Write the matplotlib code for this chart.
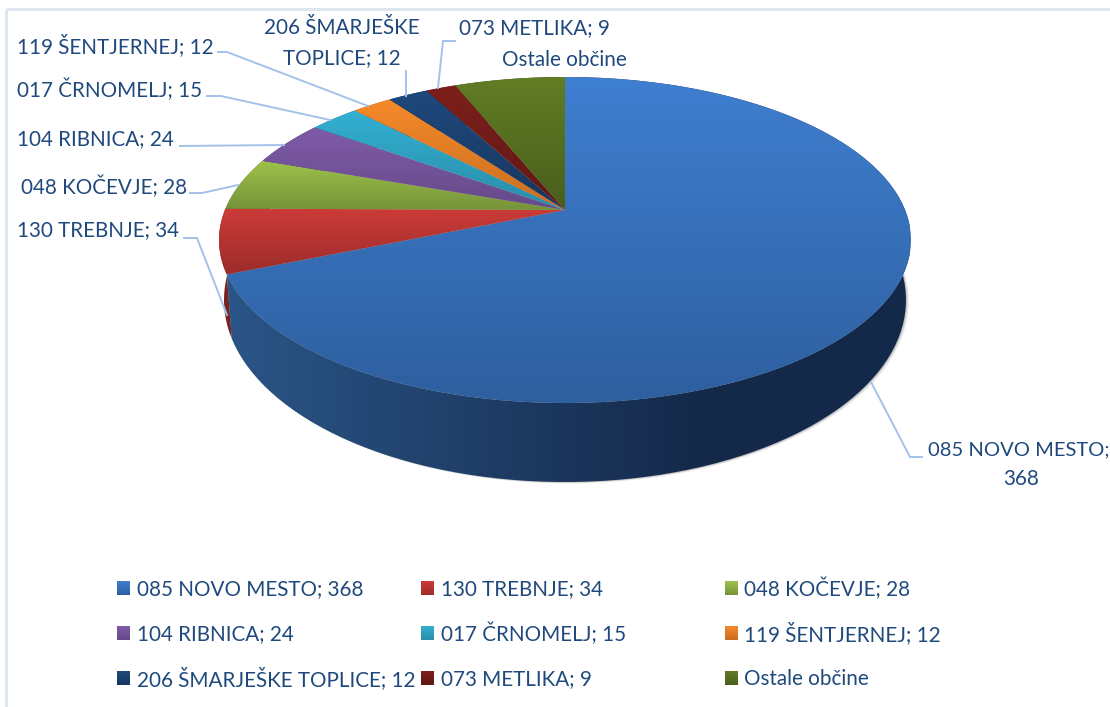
import numpy as np
import matplotlib
matplotlib.use("Agg")
import matplotlib.pyplot as plt
from matplotlib.patches import Polygon
from matplotlib.colors import LinearSegmentedColormap

categories = ["085 NOVO MESTO", "130 TREBNJE", "048 KOČEVJE", "104 RIBNICA", "017 ČRNOMELJ",
              "119 ŠENTJERNEJ", "206 ŠMARJEŠKE TOPLICE", "073 METLIKA", "Ostale občine"]
values = [368, 34, 28, 24, 15, 12, 12, 9, 33]
value_shown = [True, True, True, True, True, True, True, True, False]
top_colors = ["#3f7fd0", "#cc3b38", "#9dc34a", "#7f5ba9", "#33b0d2", "#f68a2a", "#1f497d", "#7d1f1c", "#617d24"]
bottom_colors = ["#2e5f9f", "#9c2d2b", "#76923a", "#664a88", "#2a8ca8", "#c96e1f", "#17365d", "#5f1815", "#4a5e1c"]
side_left = ["#2b5688", "#7a2220", "#5f7a2c", "#553c73", "#1f6f86", "#a85a18", "#12294a", "#4e1412", "#3c4c16"]
side_right = ["#14294a", "#5f1815", "#4c6224", "#45315e", "#185a6c", "#8a4a14", "#0e2040", "#3e100e", "#303d12"]

TEXT = "#1f497d"
LEADER = "#a3c2ea"
FRAME = "#dce6f1"
plt.rcParams["font.family"] = ["Lato", "DejaVu Sans"]
FS = 14.9

fig = plt.figure(figsize=(11.10, 7.07), dpi=100)
ax = fig.add_axes([0, 0, 1, 1])
ax.set_xlim(0, 1110)
ax.set_ylim(707, 0)
ax.axis("off")
ax.set_autoscale_on(False)

# perspective disc geometry
CX, CY, RX, RY = 565.0, 240.0, 346.0, 163.0
APEX = -30.0
PC = -60.0 / 326.0
A = RX * np.sqrt(1 - PC ** 2)
B = RY
BOT_CY, BOT_RX, BOT_RY = 300.0, 341.0, 182.0


def rim(theta):
    u, v = np.sin(theta), -np.cos(theta)
    w = 1 + PC * v
    return A * u / w, (B * v + APEX) / w


def top_pts(t):
    x, y = rim(t)
    return np.column_stack([CX + x, CY + y])


def bot_pts(t):
    x, y = rim(t)
    return np.column_stack([CX + x * BOT_RX / RX, BOT_CY + y * BOT_RY / RY])


layer = [2.0]


def fill_grad(poly, c0, c1, horizontal=False):
    layer[0] += 0.01
    patch = Polygon(poly, closed=True, fc="none", ec="none", transform=ax.transData)
    ax.add_patch(patch)
    x0, y0 = poly.min(axis=0)
    x1, y1 = poly.max(axis=0)
    g = np.linspace(0, 1, 256)
    if horizontal:
        cmap = LinearSegmentedColormap.from_list("g", [(0, c0), (0.7, c1), (1, c1)])
        g = g[None, :]
        x0, x1 = 218, 910
    else:
        cmap = LinearSegmentedColormap.from_list("g", [c0, c1])
        g = g[:, None]
    im = ax.imshow(g, cmap=cmap, vmin=0, vmax=1, extent=[x0, x1, y1, y0], aspect="auto",
                   interpolation="bilinear", zorder=layer[0])
    im.set_clip_path(patch)


# frame
ax.plot([6, 6], [707, 9], color=FRAME, lw=2, solid_capstyle="butt", zorder=1)
ax.plot([6, 1110], [9, 9], color=FRAME, lw=2, solid_capstyle="butt", zorder=1)

# slice angles, clockwise from the top
vals = np.array(values, float)
edges = np.concatenate([[0], np.cumsum(vals)]) / vals.sum() * 2 * np.pi
all_t = np.linspace(0, 2 * np.pi, 361)

# soft shadow
sil = bot_pts(all_t)
for grow, a in [(5, .05), (4, .06), (3, .08), (2, .10), (1, .12)]:
    ax.add_patch(Polygon(sil + [grow * .6, grow * .3], closed=True, fc="#404040", ec="none", alpha=a, zorder=1.5))

# side walls, back to front so the first slice wins
for i in [8, 7, 6, 5, 4, 3, 2, 1, 0]:
    t = np.linspace(edges[i], edges[i + 1], 120)
    poly = np.vstack([top_pts(t), bot_pts(t)[::-1]])
    fill_grad(poly, side_left[i], side_right[i], horizontal=True)

# top face
for i in range(len(values)):
    t = np.linspace(edges[i], edges[i + 1], 200)
    poly = np.vstack([[CX, CY + APEX], top_pts(t)])
    fill_grad(poly, top_colors[i], bottom_colors[i])


# data labels
def lab(name_idx):
    return f"{categories[name_idx]}; {values[name_idx]}" if value_shown[name_idx] else categories[name_idx]


left_labels = [(1, 17, 230), (2, 21, 187), (3, 17, 139), (4, 17, 90), (5, 17, 46), (7, 459, 28), (8, 502, 60)]
for idx, x, y in left_labels:
    ax.text(x, y, lab(idx), color=TEXT, fontsize=FS, ha="left", va="center", zorder=6)
name6 = categories[6].rsplit(" ", 1)
ax.text(342, 28, name6[0], color=TEXT, fontsize=FS, ha="center", va="center", zorder=6)
ax.text(342, 58, f"{name6[1]}; {values[6]}", color=TEXT, fontsize=FS, ha="center", va="center", zorder=6)
ax.text(928, 450, f"{categories[0]};", color=TEXT, fontsize=14.5, ha="left", va="center", zorder=6)
ax.text(1021, 479, f"{values[0]}", color=TEXT, fontsize=FS, ha="center", va="center", zorder=6)

# leader lines
leaders = [
    ([218, 227, 368], [52, 52, 106]),
    ([406, 406], [71, 96]),
    ([455, 443, 438], [41, 41, 88]),
    ([207, 221, 330], [96, 96, 120]),
    ([180, 284], [146, 145]),
    ([190, 202, 238], [193, 193, 185]),
    ([184, 197, 227], [238, 238, 315]),
    ([871, 910, 922], [382, 457, 457]),
]
for xs, ys in leaders:
    ax.plot(xs, ys, color=LEADER, lw=1.4, zorder=5, solid_joinstyle="miter")

# legend
col_sq = [117, 421, 725]
col_tx = [137, 441, 744]
row_y = [588, 633, 678]
for i in range(len(categories)):
    r, c = divmod(i, 3)
    sq = np.array([[col_sq[c], row_y[r] - 7], [col_sq[c] + 13, row_y[r] - 7],
                   [col_sq[c] + 13, row_y[r] + 7], [col_sq[c], row_y[r] + 7]], float)
    fill_grad(sq, top_colors[i], bottom_colors[i])
    ax.text(col_tx[c], row_y[r] + 1, lab(i), color=TEXT, fontsize=FS, ha="left", va="center", zorder=6)

ax.set_xlim(0, 1110)
ax.set_ylim(707, 0)
fig.savefig("out.png", dpi=100, facecolor="white")
